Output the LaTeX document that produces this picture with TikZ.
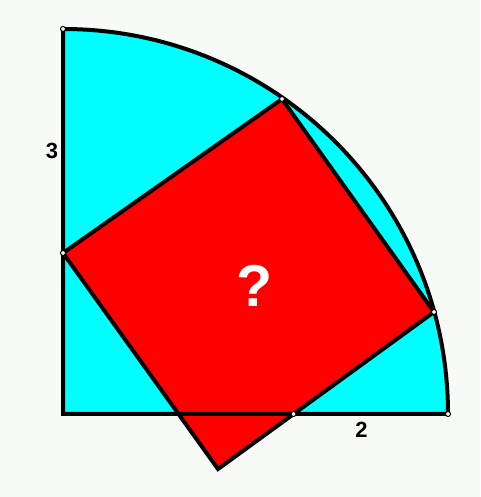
\documentclass[tikz,border=0pt]{standalone}
\usepackage{fontspec}
\setmainfont{Liberation Sans}
\definecolor{bgc}{RGB}{247,250,246}
\definecolor{cy}{RGB}{0,255,255}
\definecolor{rd}{RGB}{255,0,0}
\begin{document}
\begin{tikzpicture}[x=1pt,y=1pt,
  edge/.style={draw=black,line width=4pt},
  dotc/.style={circle,draw=black,fill=white,line width=1pt,inner sep=0pt,minimum size=5pt},
  lbl/.style={font=\fontsize{22}{22}\selectfont\bfseries,text=black,inner sep=0pt}]
\fill[bgc] (-63,-83) rectangle (417,414);
\useasboundingbox (-63,-83) rectangle (417,414);
% points
\coordinate (O) at (0,0);
\coordinate (T) at (0,385);
\coordinate (E) at (385,0);
\coordinate (A) at (0,161);
\coordinate (B) at (219,315);
\coordinate (C) at (371,102);
\coordinate (D) at (155,-55);
\coordinate (P) at (230.5,0);
% quarter disc fill
\fill[cy] (O) -- (T) arc[start angle=90,end angle=0,radius=385pt] -- cycle;
% square
\draw[edge,fill=rd,line join=miter] (A) -- (B) -- (C) -- (D) -- cycle;
% quarter outline
\draw[edge,line join=miter] (E) -- (O) -- (T) arc[start angle=90,end angle=0,radius=385pt];
% dots
\foreach \p in {T,A,B,C,P,E} \node[dotc] at (\p) {};
% labels
\node[lbl] (l3) at (-11,263) {3};
\node[lbl] (l2) at (298.5,-16) {2};
\node[font=\fontsize{59}{59}\selectfont\bfseries,text=white,inner sep=0pt] (q) at (192,128) {?};
\end{tikzpicture}
\end{document}
